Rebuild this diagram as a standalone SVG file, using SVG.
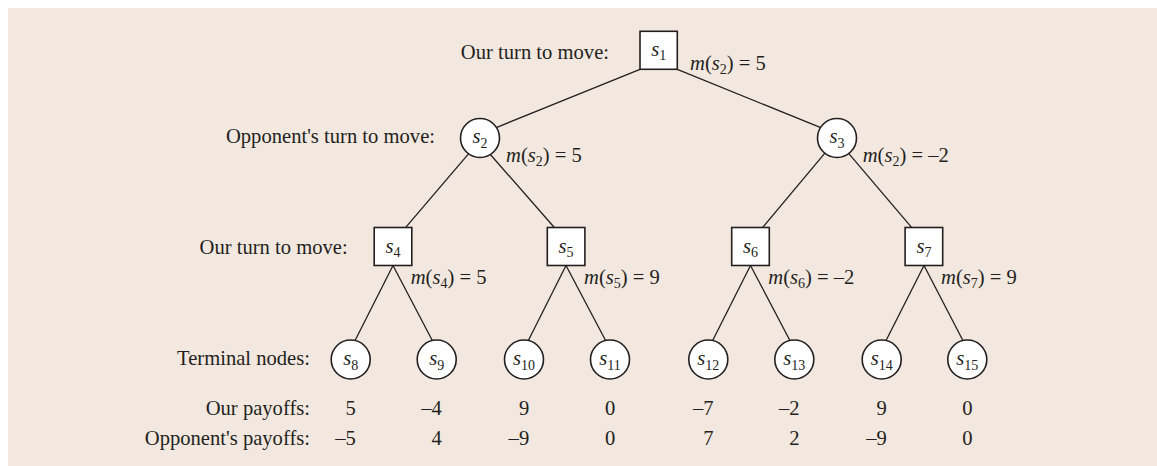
<svg xmlns="http://www.w3.org/2000/svg" width="1157" height="466" viewBox="0 0 1157 466">
  <style>
    text { font-family: "Liberation Serif", "Times New Roman", serif; font-size: 20.6px; fill: #231f20; }
    .i { font-style: italic; }
    .sub { font-size: 14px; font-style: normal; }
    .lab { text-anchor: end; }
    .mid { text-anchor: middle; }
    .num { text-anchor: end; }
    .node { fill: #ffffff; stroke: #231f20; stroke-width: 1.6; }
    .edge { stroke: #231f20; stroke-width: 1.3; fill: none; }
  </style>

  <!-- panel background -->
  <rect x="8" y="8" width="1149" height="458" fill="#f3e8df"/>

  <!-- row captions -->
  <g id="captions">
    <text class="lab" x="609" y="58.5">Our turn to move:</text>
    <text class="lab" x="435" y="143">Opponent's turn to move:</text>
    <text class="lab" x="347.7" y="254.3">Our turn to move:</text>
    <text class="lab" x="310" y="365.3">Terminal nodes:</text>
    <text class="lab" x="310" y="415.3">Our payoffs:</text>
    <text class="lab" x="310" y="445">Opponent's payoffs:</text>
  </g>

  <!-- tree edges -->
  <g id="connectors">
    <line class="edge" x1="640" y1="69.3" x2="494.5" y2="128.3"/>
    <line class="edge" x1="677.3" y1="69.3" x2="822" y2="128.2"/>
    <line class="edge" x1="468.7" y1="153.7" x2="403.6" y2="229.8"/>
    <line class="edge" x1="489.7" y1="153.7" x2="556.3" y2="229.8"/>
    <line class="edge" x1="825.3" y1="152.7" x2="760.7" y2="229.8"/>
    <line class="edge" x1="848" y1="152.7" x2="913.7" y2="229.8"/>
    <line class="edge" x1="393" y1="265.5" x2="354.3" y2="342"/>
    <line class="edge" x1="393" y1="265.5" x2="433.1" y2="342"/>
    <line class="edge" x1="566" y1="265.5" x2="527.6" y2="342"/>
    <line class="edge" x1="566" y1="265.5" x2="606.4" y2="342"/>
    <line class="edge" x1="750.5" y1="265.5" x2="711.9" y2="342"/>
    <line class="edge" x1="750.5" y1="265.5" x2="790.7" y2="342"/>
    <line class="edge" x1="924" y1="265.5" x2="885.3" y2="342"/>
    <line class="edge" x1="924" y1="265.5" x2="963.7" y2="342"/>
  </g>

  <!-- decision nodes (ours: squares, opponent: circles) -->
  <g id="s1">
    <rect class="node" x="640" y="31.3" width="37.3" height="38"/>
    <text class="mid" x="658.7" y="55.8"><tspan class="i">s</tspan><tspan class="sub" dy="4.5">1</tspan></text>
  </g>
  <g id="s2">
    <circle class="node" cx="480" cy="138" r="19.5"/>
    <text class="mid" x="480" y="143.3"><tspan class="i">s</tspan><tspan class="sub" dy="4.5">2</tspan></text>
  </g>
  <g id="s3">
    <circle class="node" cx="837" cy="138" r="19.5"/>
    <text class="mid" x="837" y="143.3"><tspan class="i">s</tspan><tspan class="sub" dy="4.5">3</tspan></text>
  </g>
  <g id="s4">
    <rect class="node" x="374.2" y="227.5" width="37.6" height="38"/>
    <text class="mid" x="393" y="252.5"><tspan class="i">s</tspan><tspan class="sub" dy="4.5">4</tspan></text>
  </g>
  <g id="s5">
    <rect class="node" x="547.3" y="227.5" width="37.6" height="38"/>
    <text class="mid" x="566" y="252.5"><tspan class="i">s</tspan><tspan class="sub" dy="4.5">5</tspan></text>
  </g>
  <g id="s6">
    <rect class="node" x="731.7" y="227.5" width="37.6" height="38"/>
    <text class="mid" x="750.5" y="252.5"><tspan class="i">s</tspan><tspan class="sub" dy="4.5">6</tspan></text>
  </g>
  <g id="s7">
    <rect class="node" x="905.1" y="227.5" width="37.6" height="38"/>
    <text class="mid" x="924" y="252.5"><tspan class="i">s</tspan><tspan class="sub" dy="4.5">7</tspan></text>
  </g>

  <!-- terminal nodes -->
  <g id="s8">
    <circle class="node" cx="350.7" cy="359.5" r="19.5"/>
    <text class="mid" x="350.7" y="365"><tspan class="i">s</tspan><tspan class="sub" dy="4.5">8</tspan></text>
  </g>
  <g id="s9">
    <circle class="node" cx="436.7" cy="359.5" r="19.5"/>
    <text class="mid" x="436.7" y="365"><tspan class="i">s</tspan><tspan class="sub" dy="4.5">9</tspan></text>
  </g>
  <g id="s10">
    <circle class="node" cx="524" cy="359.5" r="19.5"/>
    <text class="mid" x="524" y="365"><tspan class="i">s</tspan><tspan class="sub" dy="4.5">10</tspan></text>
  </g>
  <g id="s11">
    <circle class="node" cx="610" cy="359.5" r="19.5"/>
    <text class="mid" x="610" y="365"><tspan class="i">s</tspan><tspan class="sub" dy="4.5">11</tspan></text>
  </g>
  <g id="s12">
    <circle class="node" cx="708.3" cy="359.5" r="19.5"/>
    <text class="mid" x="708.3" y="365"><tspan class="i">s</tspan><tspan class="sub" dy="4.5">12</tspan></text>
  </g>
  <g id="s13">
    <circle class="node" cx="794.3" cy="359.5" r="19.5"/>
    <text class="mid" x="794.3" y="365"><tspan class="i">s</tspan><tspan class="sub" dy="4.5">13</tspan></text>
  </g>
  <g id="s14">
    <circle class="node" cx="881.7" cy="359.5" r="19.5"/>
    <text class="mid" x="881.7" y="365"><tspan class="i">s</tspan><tspan class="sub" dy="4.5">14</tspan></text>
  </g>
  <g id="s15">
    <circle class="node" cx="967.3" cy="359.5" r="19.5"/>
    <text class="mid" x="967.3" y="365"><tspan class="i">s</tspan><tspan class="sub" dy="4.5">15</tspan></text>
  </g>

  <!-- minimax values -->
  <g id="values">
    <text x="690" y="69.5"><tspan class="i">m</tspan>(<tspan class="i">s</tspan><tspan class="sub" dy="4.5">2</tspan><tspan dy="-4.5">) = 5</tspan></text>
    <text x="506" y="161.7"><tspan class="i">m</tspan>(<tspan class="i">s</tspan><tspan class="sub" dy="4.5">2</tspan><tspan dy="-4.5">) = 5</tspan></text>
    <text x="862.7" y="161.7"><tspan class="i">m</tspan>(<tspan class="i">s</tspan><tspan class="sub" dy="4.5">2</tspan><tspan dy="-4.5">) = –2</tspan></text>
    <text x="410.7" y="283.5"><tspan class="i">m</tspan>(<tspan class="i">s</tspan><tspan class="sub" dy="4.5">4</tspan><tspan dy="-4.5">) = 5</tspan></text>
    <text x="584" y="283.5"><tspan class="i">m</tspan>(<tspan class="i">s</tspan><tspan class="sub" dy="4.5">5</tspan><tspan dy="-4.5">) = 9</tspan></text>
    <text x="768.3" y="283.5"><tspan class="i">m</tspan>(<tspan class="i">s</tspan><tspan class="sub" dy="4.5">6</tspan><tspan dy="-4.5">) = –2</tspan></text>
    <text x="941" y="283.5"><tspan class="i">m</tspan>(<tspan class="i">s</tspan><tspan class="sub" dy="4.5">7</tspan><tspan dy="-4.5">) = 9</tspan></text>
  </g>

  <!-- payoff table: digits centred under each terminal node -->
  <g id="payoffs">
    <text class="num" x="355.9" y="415.3">5</text>
    <text class="num" x="441.9" y="415.3">–4</text>
    <text class="num" x="529.2" y="415.3">9</text>
    <text class="num" x="615.2" y="415.3">0</text>
    <text class="num" x="713.5" y="415.3">–7</text>
    <text class="num" x="799.5" y="415.3">–2</text>
    <text class="num" x="886.9" y="415.3">9</text>
    <text class="num" x="972.5" y="415.3">0</text>
    <text class="num" x="355.9" y="445">–5</text>
    <text class="num" x="441.9" y="445">4</text>
    <text class="num" x="529.2" y="445">–9</text>
    <text class="num" x="615.2" y="445">0</text>
    <text class="num" x="713.5" y="445">7</text>
    <text class="num" x="799.5" y="445">2</text>
    <text class="num" x="886.9" y="445">–9</text>
    <text class="num" x="972.5" y="445">0</text>
  </g>
</svg>
